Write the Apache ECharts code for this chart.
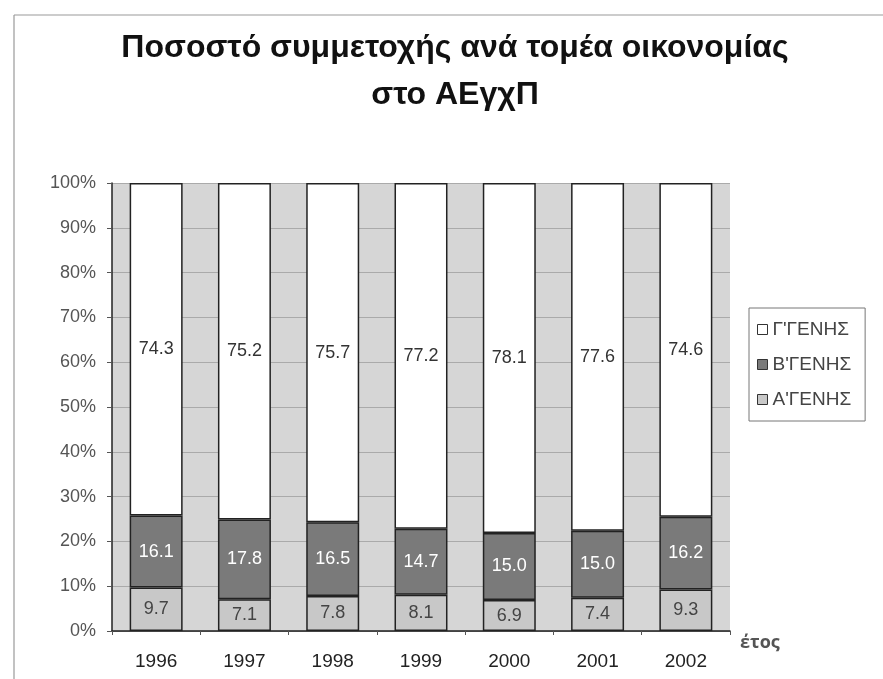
<!DOCTYPE html>
<html>
<head>
<meta charset="utf-8">
<script src="https://cdn.jsdelivr.net/npm/echarts@6/dist/echarts.min.js"></script>
<style>
  html, body { margin: 0; padding: 0; background: #fff; }
  #chart { width: 883px; height: 679px; }
</style>
</head>
<body>
<div id="chart"></div>
<script>
var years = ['1996', '1997', '1998', '1999', '2000', '2001', '2002'];
var genA = [9.7, 7.1, 7.8, 8.1, 6.9, 7.4, 9.3];
var genB = [16.1, 17.8, 16.5, 14.7, 15.0, 15.0, 16.2];
var genC = [74.3, 75.2, 75.7, 77.2, 78.1, 77.6, 74.6];
var names = ["Α'ΓΕΝΗΣ", "Β'ΓΕΝΗΣ", "Γ'ΓΕΝΗΣ"];

var chart = echarts.init(document.getElementById('chart'));

// 100% stacked: each share over the year's total
function share(arr) {
    return arr.map(function (v, i) {
        var tot = genA[i] + genB[i] + genC[i];
        return { value: v / tot * 100, raw: v };
    });
}

function lbl(color) {
    return {
        show: true,
        position: 'inside',
        color: color,
        fontFamily: 'Liberation Sans',
        fontSize: 18,
        formatter: function (p) { return p.data.raw.toFixed(1); }
    };
}

var option = {
    backgroundColor: '#fff',
    title: {
        text: 'Ποσοστό συμμετοχής ανά τομέα οικονομίας\nστο ΑΕγχΠ',
        left: 450,
        top: 20,
        textAlign: 'center',
        textStyle: {
            fontFamily: 'Liberation Sans',
            fontWeight: 'bold',
            fontSize: 32,
            lineHeight: 47,
            color: '#111'
        }
    },
    legend: {
        orient: 'vertical',
        left: 749,
        top: 308,
        padding: [12, 14, 12, 8],
        itemGap: 16,
        itemWidth: 10,
        itemHeight: 10,
        icon: 'rect',
        borderColor: '#777',
        borderWidth: 1,
        data: [names[2], names[1], names[0]],
        itemStyle: { borderColor: '#333', borderWidth: 1 },
        textStyle: { fontFamily: 'Liberation Sans', fontSize: 19, color: '#444' }
    },
    graphic: [
        { type: 'line', shape: { x1: 14, y1: 15, x2: 883, y2: 15 }, style: { stroke: '#999', lineWidth: 1.2 } },
        { type: 'line', shape: { x1: 14, y1: 15, x2: 14, y2: 679 }, style: { stroke: '#999', lineWidth: 1.2 } }
    ],
    grid: {
        left: 112,
        right: 153,
        top: 183,
        bottom: 48,
        show: true,
        backgroundColor: '#d6d6d6',
        borderWidth: 0
    },
    xAxis: {
        type: 'category',
        data: years,
        name: 'έτος',
        nameLocation: 'end',
        nameGap: 10,
        nameTextStyle: { fontFamily: 'Open Sans', fontSize: 18, fontWeight: 'bold', color: '#555', verticalAlign: 'top', padding: [3, 0, 0, 0] },
        axisLine: { lineStyle: { color: '#222', width: 1.5 } },
        axisTick: { show: true, length: 4, lineStyle: { color: '#555' } },
        axisLabel: { fontFamily: 'Liberation Sans', fontSize: 19, color: '#222', margin: 21 }
    },
    yAxis: {
        type: 'value',
        min: 0,
        max: 100,
        interval: 10,
        axisLine: { show: true, lineStyle: { color: '#222', width: 1.5 } },
        axisTick: { show: true, length: 5, lineStyle: { color: '#555' } },
        axisLabel: { formatter: '{value}%', fontFamily: 'Liberation Sans', fontSize: 18, color: '#555', margin: 16 },
        splitLine: { lineStyle: { color: '#aaa', width: 1 } }
    },
    series: [
        {
            name: names[0], type: 'bar', stack: 'all', barWidth: '60%', data: share(genA),
            itemStyle: { color: '#c8c8c8', borderColor: '#222', borderWidth: 1.5 },
            label: lbl('#444')
        },
        {
            name: names[1], type: 'bar', stack: 'all', data: share(genB),
            itemStyle: { color: '#7a7a7a', borderColor: '#222', borderWidth: 1.5 },
            label: lbl('#fff')
        },
        {
            name: names[2], type: 'bar', stack: 'all', data: share(genC),
            itemStyle: { color: '#fff', borderColor: '#222', borderWidth: 1.5 },
            label: lbl('#333')
        }
    ]
};

chart.setOption(option);
</script>
</body>
</html>
